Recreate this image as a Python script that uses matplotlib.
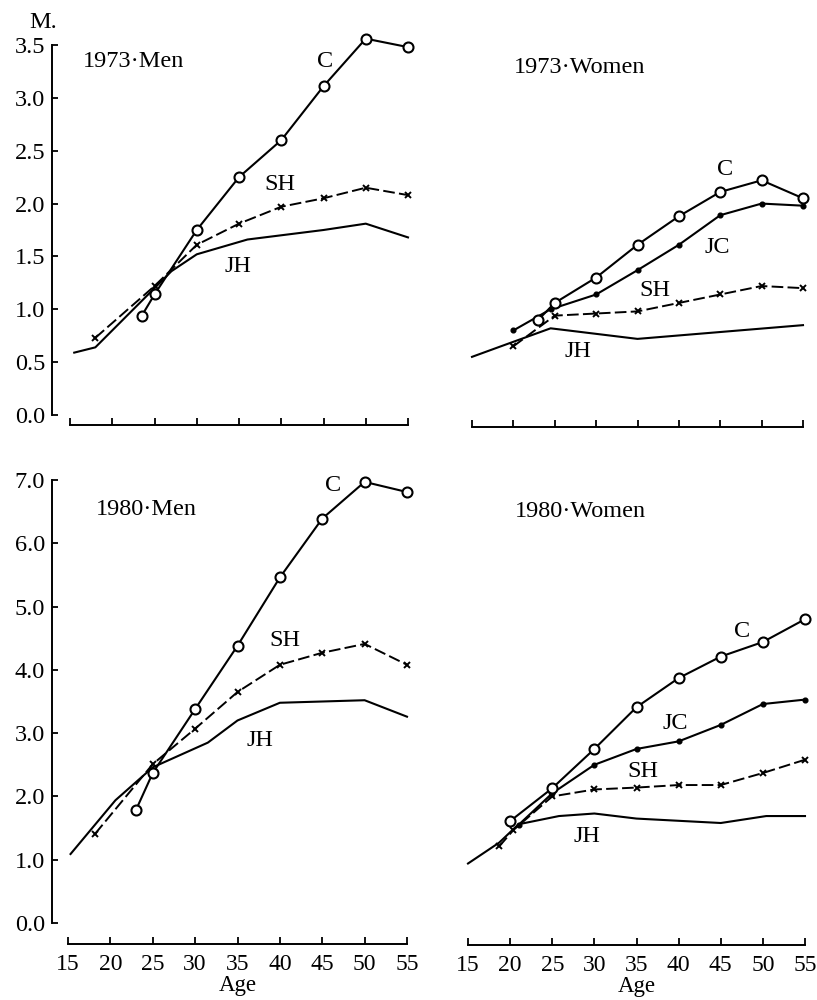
import matplotlib
matplotlib.use("Agg")
import matplotlib.pyplot as plt

plt.rcParams['font.family'] = ['Liberation Serif', 'DejaVu Serif']

# ---------------- data ----------------
ages_ticks = [15, 20, 25, 30, 35, 40, 45, 50, 55]

men73_C_age = [23.5, 25, 30, 35, 40, 45, 50, 55]
men73_C = [0.94, 1.14, 1.75, 2.25, 2.60, 3.11, 3.56, 3.48]
men73_SH_age = [18, 25, 30, 35, 40, 45, 50, 55]
men73_SH = [0.73, 1.22, 1.61, 1.81, 1.97, 2.05, 2.15, 2.08]
men73_JH_age = [15.5, 18, 25, 27, 30, 36, 45, 50, 55]
men73_JH = [0.59, 0.64, 1.20, 1.36, 1.52, 1.66, 1.75, 1.81, 1.68]

women73_C_age = [23, 25, 30, 35, 40, 45, 50, 55]
women73_C = [0.90, 1.06, 1.30, 1.61, 1.88, 2.11, 2.22, 2.05]
women73_JC_age = [20, 24.5, 30, 35, 40, 45, 50, 55]
women73_JC = [0.80, 1.00, 1.14, 1.37, 1.61, 1.89, 2.00, 1.98]
women73_SH_age = [20, 25, 30, 35, 40, 45, 50, 55]
women73_SH = [0.65, 0.94, 0.96, 0.98, 1.06, 1.14, 1.22, 1.20]
women73_JH_age = [15, 18.5, 24.5, 35, 55]
women73_JH = [0.55, 0.65, 0.82, 0.72, 0.85]

men80_C_age = [23, 25, 30, 35, 40, 45, 50, 55]
men80_C = [1.78, 2.37, 3.38, 4.38, 5.46, 6.39, 6.97, 6.81]
men80_SH_age = [18.2, 25, 30, 35, 40, 45, 50, 55]
men80_SH = [1.41, 2.51, 3.07, 3.65, 4.08, 4.27, 4.41, 4.08]
men80_JH_age = [15.3, 20.6, 25, 31.5, 35, 40, 50, 55]
men80_JH = [1.09, 1.94, 2.46, 2.85, 3.20, 3.48, 3.52, 3.26]

women80_C_age = [20, 25, 30, 35, 40, 45, 50, 55]
women80_C = [1.61, 2.13, 2.75, 3.41, 3.87, 4.21, 4.44, 4.80]
women80_JC_age = [21, 25, 30, 35, 40, 45, 50, 55]
women80_JC = [1.55, 2.05, 2.50, 2.75, 2.87, 3.13, 3.46, 3.53]
women80_SH_age = [18.7, 20.4, 25, 30, 35, 40, 45, 50, 55]
women80_SH = [1.21, 1.47, 2.00, 2.11, 2.14, 2.18, 2.18, 2.37, 2.58]
women80_JH_age = [15, 18.7, 21, 25.8, 30, 35, 45, 50.4, 55]
women80_JH = [0.94, 1.27, 1.56, 1.69, 1.73, 1.65, 1.58, 1.69, 1.69]

yticks_73 = [0.0, 0.5, 1.0, 1.5, 2.0, 2.5, 3.0, 3.5]
yticks_80 = [0.0, 1.0, 2.0, 3.0, 4.0, 5.0, 6.0, 7.0]

# ---------------- figure ----------------
W, H = 817, 1000
fig = plt.figure(figsize=(W / 100, H / 100), dpi=100)
PX2PT = 72 / 100


def make_axes(x0, x1, y_bottom, y_top, ylim, yticks, show_y, xaxis_px, yaxis_px, xlabels):
    ax = fig.add_axes([x0 / W, 1 - y_bottom / H, (x1 - x0) / W, (y_bottom - y_top) / H])
    ax.set_xlim(15, 55)
    ax.set_ylim(*ylim)
    ax.patch.set_alpha(0)
    for s in ['top', 'right']:
        ax.spines[s].set_visible(False)
    ax.spines['bottom'].set_position(('outward', (xaxis_px - y_bottom) * PX2PT))
    ax.spines['bottom'].set_linewidth(1.4)
    ax.set_xticks(ages_ticks)
    ax.tick_params(axis='x', direction='in', length=5, width=1.3, pad=7, labelsize=17)
    if not xlabels:
        ax.set_xticklabels([])
    else:
        ax.set_xlabel('Age', fontsize=16.5, labelpad=0)
    if show_y:
        ax.spines['left'].set_position(('outward', (x0 - yaxis_px) * PX2PT))
        ax.spines['left'].set_linewidth(1.4)
        ax.set_yticks(yticks)
        ax.set_yticklabels([f'{v:.1f}' for v in yticks])
        ax.tick_params(axis='y', direction='in', length=4, width=1.3, pad=5, labelsize=17.5)
    else:
        ax.spines['left'].set_visible(False)
        ax.set_yticks([])
    return ax


def C_line(ax, x, y):
    ax.plot(x, y, '-', color='black', lw=1.5, marker='o', ms=7.2, mfc='white',
            mec='black', mew=1.5, clip_on=False, zorder=4)


def JC_line(ax, x, y):
    ax.plot(x, y, '-', color='black', lw=1.5, marker='o', ms=3.4, mfc='black',
            mec='black', clip_on=False, zorder=3)


def SH_line(ax, x, y):
    ax.plot(x, y, color='black', lw=1.4, linestyle=(0, (6, 2.2)), marker='x',
            ms=4.5, mew=1.4, clip_on=False, zorder=3)


def JH_line(ax, x, y):
    ax.plot(x, y, '-', color='black', lw=1.5, clip_on=False, zorder=2)


tk = dict(fontsize=17.5, ha='center', va='center', color='black')

# 1973 Men
ax1 = make_axes(70, 408, 415, 45, (0, 3.5), yticks_73, True, 425, 52, False)
C_line(ax1, men73_C_age, men73_C)
SH_line(ax1, men73_SH_age, men73_SH)
JH_line(ax1, men73_JH_age, men73_JH)
ax1.text(45.2, 3.34, 'C', **tk)
ax1.text(39.85, 2.18, 'SH', **tk)
ax1.text(34.9, 1.40, 'JH', **tk)
ax1.text(22.5, 3.34, '1973·Men', **tk)

# 1973 Women
ax2 = make_axes(472, 803, 415, 45, (0, 3.5), yticks_73, False, 427, 0, False)
C_line(ax2, women73_C_age, women73_C)
JC_line(ax2, women73_JC_age, women73_JC)
SH_line(ax2, women73_SH_age, women73_SH)
JH_line(ax2, women73_JH_age, women73_JH)
ax2.text(45.6, 2.32, 'C', **tk)
ax2.text(44.6, 1.58, 'JC', **tk)
ax2.text(37.1, 1.18, 'SH', **tk)
ax2.text(27.8, 0.60, 'JH', **tk)
ax2.text(28.05, 3.29, '1973·Women', **tk)

# 1980 Men
ax3 = make_axes(68, 407, 923, 480, (0, 7.0), yticks_80, True, 944, 52, True)
C_line(ax3, men80_C_age, men80_C)
SH_line(ax3, men80_SH_age, men80_SH)
JH_line(ax3, men80_JH_age, men80_JH)
ax3.text(46.3, 6.92, 'C', **tk)
ax3.text(40.6, 4.46, 'SH', **tk)
ax3.text(37.65, 2.88, 'JH', **tk)
ax3.text(24.3, 6.53, '1980·Men', **tk)

# 1980 Women
ax4 = make_axes(468, 805, 923, 480, (0, 7.0), yticks_80, False, 945, 0, True)
C_line(ax4, women80_C_age, women80_C)
JC_line(ax4, women80_JC_age, women80_JC)
SH_line(ax4, women80_SH_age, women80_SH)
JH_line(ax4, women80_JH_age, women80_JH)
ax4.text(47.5, 4.61, 'C', **tk)
ax4.text(39.6, 3.16, 'JC', **tk)
ax4.text(35.8, 2.39, 'SH', **tk)
ax4.text(29.1, 1.37, 'JH', **tk)
ax4.text(28.3, 6.51, '1980·Women', **tk)

fig.text(43 / W, 1 - 22 / H, 'M.', fontsize=17.5, ha='center', va='center')

fig.savefig('out.png', dpi=100)
